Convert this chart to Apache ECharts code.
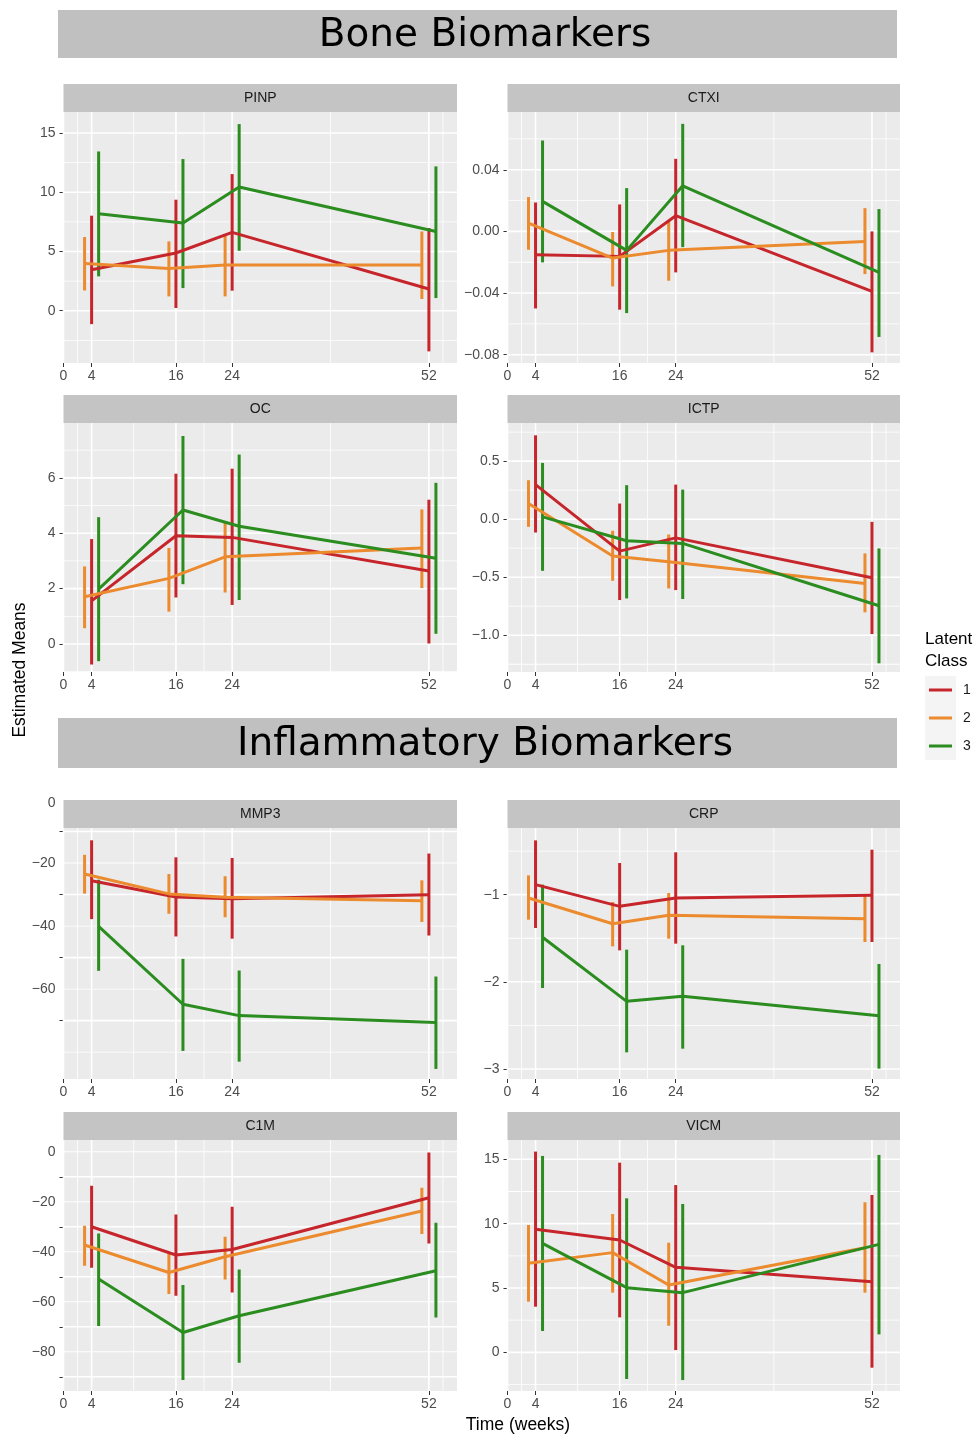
<!DOCTYPE html>
<html><head><meta charset="utf-8">
<script src="https://cdn.jsdelivr.net/npm/echarts@6.0.0/dist/echarts.min.js"></script>
<style>html,body{margin:0;padding:0;background:#fff}#c{width:978px;height:1434px}</style>
</head><body><div id="c"></div>
<script>
// ---------- data ----------
const WEEKS = [4, 16, 24, 52];
const CLASSES = ['1', '2', '3'];
const X_TICKS = [0, 4, 16, 24, 52];
const X_MINOR = [2, 10, 20, 38, 54];
const PANEL_NAMES = ['PINP', 'CTXI', 'OC', 'ICTP', 'MMP3', 'CRP', 'C1M', 'VICM'];
const SECTION_TITLES = ['Bone Biomarkers', 'Inflammatory Biomarkers'];

// each array: [class1, class2, class3], values at WEEKS
const PINP_MEAN = [[3.46, 4.87, 6.61, 1.83], [3.99, 3.57, 3.85, 3.85], [8.19, 7.40, 10.44, 6.69]];
const PINP_LOW  = [[-1.13, 0.23, 1.69, -3.43], [1.71, 1.21, 1.21, 0.99], [2.90, 1.91, 5.06, 1.07]];
const PINP_HIGH = [[8.02, 9.37, 11.53, 6.98], [6.22, 5.85, 6.41, 6.69], [13.44, 12.80, 15.75, 12.18]];

const CTXI_MEAN = [[-0.0151, -0.0162, 0.0102, -0.0389], [0.0054, -0.0173, -0.0123, -0.0065], [0.0195, -0.0123, 0.0296, -0.0266]];
const CTXI_LOW  = [[-0.0500, -0.0508, -0.0266, -0.0785], [-0.0119, -0.0357, -0.0320, -0.0277], [-0.0201, -0.0530, -0.0102, -0.0685]];
const CTXI_HIGH = [[0.0188, 0.0175, 0.0471, 0.0000], [0.0223, -0.0004, 0.0065, 0.0151], [0.0590, 0.0281, 0.0698, 0.0145]];

const OC_MEAN = [[1.56, 3.91, 3.85, 2.64], [1.71, 2.37, 3.15, 3.47], [1.98, 4.84, 4.25, 3.10]];
const OC_LOW  = [[-0.74, 1.68, 1.41, 0.02], [0.57, 1.17, 1.86, 2.02], [-0.62, 2.16, 1.59, 0.37]];
const OC_HIGH = [[3.79, 6.15, 6.33, 5.21], [2.80, 3.47, 4.42, 4.86], [4.58, 7.51, 6.84, 5.82]];

const ICTP_MEAN = [[0.298, -0.275, -0.161, -0.505], [0.135, -0.318, -0.367, -0.554], [0.020, -0.186, -0.209, -0.746]];
const ICTP_LOW  = [[-0.115, -0.697, -0.611, -0.990], [-0.066, -0.531, -0.597, -0.803], [-0.445, -0.683, -0.688, -1.242]];
const ICTP_HIGH = [[0.723, 0.135, 0.298, -0.023], [0.336, -0.100, -0.132, -0.295], [0.485, 0.293, 0.255, -0.252]];

const MMP3_MEAN = [[-25.6, -30.8, -31.3, -30.1], [-23.5, -29.8, -30.9, -32.0], [-40.1, -64.8, -68.4, -70.6]];
const MMP3_LOW  = [[-37.8, -43.3, -44.0, -43.0], [-29.7, -36.1, -37.2, -38.7], [-54.2, -79.6, -83.0, -85.3]];
const MMP3_HIGH = [[-12.8, -18.2, -18.4, -17.0], [-17.4, -23.5, -24.2, -25.5], [-25.3, -50.4, -54.1, -56.0]];

const CRP_MEAN = [[-0.885, -1.134, -1.038, -1.008], [-1.038, -1.333, -1.237, -1.275], [-1.489, -2.224, -2.166, -2.388]];
const CRP_LOW  = [[-1.382, -1.639, -1.562, -1.543], [-1.287, -1.593, -1.505, -1.543], [-2.071, -2.809, -2.767, -2.996]];
const CRP_HIGH = [[-0.377, -0.637, -0.514, -0.484], [-0.778, -1.084, -0.981, -1.000], [-0.885, -1.631, -1.581, -1.795]];

const C1M_MEAN = [[-30.0, -41.3, -39.1, -18.4], [-37.3, -48.3, -42.0, -23.7], [-50.9, -72.3, -65.6, -47.6]];
const C1M_LOW  = [[-46.4, -57.6, -56.3, -36.7], [-45.6, -56.9, -51.1, -32.9], [-69.7, -91.3, -84.4, -66.3]];
const C1M_HIGH = [[-13.6, -25.1, -22.0, -0.3], [-29.6, -40.7, -34.0, -14.4], [-32.7, -53.3, -47.1, -28.4]];

const VICM_MEAN = [[9.56, 8.73, 6.61, 5.49], [6.92, 7.75, 5.23, 8.13], [8.47, 5.03, 4.64, 8.39]];
const VICM_LOW  = [[3.55, 2.72, 0.18, -1.19], [3.94, 4.64, 2.07, 4.64], [1.66, -2.07, -2.15, 1.40]];
const VICM_HIGH = [[15.60, 14.74, 13.00, 12.23], [9.90, 10.75, 8.52, 11.66], [15.26, 11.97, 11.53, 15.34]];

// y-axis breaks
const PINP_TICKS = [0, 5, 10, 15];          const PINP_MINOR = [-2.5, 2.5, 7.5, 12.5];
const CTXI_TICKS = [-0.08, -0.04, 0, 0.04]; const CTXI_MINOR = [-0.06, -0.02, 0.02, 0.06];
const OC_TICKS = [0, 2, 4, 6];              const OC_MINOR = [-1, 1, 3, 5, 7];
const ICTP_TICKS = [-1, -0.5, 0, 0.5];      const ICTP_MINOR = [-1.25, -0.75, -0.25, 0.25, 0.75];
const MMP3_TICKS = [-10, -30, -50, -70];    const MMP3_LABELS = [0, -20, -40, -60]; const MMP3_MINOR = [-20, -40, -60, -80];
const CRP_TICKS = [-3, -2, -1];             const CRP_MINOR = [-2.5, -1.5, -0.5];
const C1M_TICKS = [-10, -30, -50, -70, -90]; const C1M_LABELS = [0, -20, -40, -60, -80]; const C1M_MINOR = [0, -20, -40, -60, -80];
const VICM_TICKS = [0, 5, 10, 15];          const VICM_MINOR = [-2.5, 2.5, 7.5, 12.5];

// ---------- styling / layout ----------
const COLORS = ['#C6262B', '#EC8A2E', '#2B8C1F'];
const DODGE = [0, -1, 1];
const FONT = "'Liberation Sans', Arial, sans-serif";
const COL_LEFT = [63.5, 507.5], COL_W = [393.5, 392.5];
const ROW_TOP = [112, 423, 828, 1140], ROW_H = [251, 249, 251, 251];
const STRIP_H = 28;
const LW = 3;

const PANELS = [
  {mean: PINP_MEAN, low: PINP_LOW, high: PINP_HIGH, ticks: PINP_TICKS, labels: PINP_TICKS, minor: PINP_MINOR, min: -4.41, max: 16.77, dec: 0},
  {mean: CTXI_MEAN, low: CTXI_LOW, high: CTXI_HIGH, ticks: CTXI_TICKS, labels: CTXI_TICKS, minor: CTXI_MINOR, min: -0.0854, max: 0.0775, dec: 2},
  {mean: OC_MEAN, low: OC_LOW, high: OC_HIGH, ticks: OC_TICKS, labels: OC_TICKS, minor: OC_MINOR, min: -1.01, max: 7.98, dec: 0},
  {mean: ICTP_MEAN, low: ICTP_LOW, high: ICTP_HIGH, ticks: ICTP_TICKS, labels: ICTP_TICKS, minor: ICTP_MINOR, min: -1.317, max: 0.829, dec: 1},
  {mean: MMP3_MEAN, low: MMP3_LOW, high: MMP3_HIGH, ticks: MMP3_TICKS, labels: MMP3_LABELS, minor: MMP3_MINOR, min: -88.5, max: -8.9, dec: 0, pad: [6, 0, 0, 0]},
  {mean: CRP_MEAN, low: CRP_LOW, high: CRP_HIGH, ticks: CRP_TICKS, labels: CRP_TICKS, minor: CRP_MINOR, min: -3.115, max: -0.235, dec: 0},
  {mean: C1M_MEAN, low: C1M_LOW, high: C1M_HIGH, ticks: C1M_TICKS, labels: C1M_LABELS, minor: C1M_MINOR, min: -95.7, max: 4.7, dec: 0, pad: [0, 0, 6, 0]},
  {mean: VICM_MEAN, low: VICM_LOW, high: VICM_HIGH, ticks: VICM_TICKS, labels: VICM_TICKS, minor: VICM_MINOR, min: -3.0, max: 16.5, dec: 0}
];

function fmt(v, dec) {
  const s = Math.abs(v).toFixed(dec);
  return (v < 0 && Number(s) !== 0 ? '\u2212' : '') + s;
}

const grids = [], xAxes = [], yAxes = [], series = [], graphics = [];

PANELS.forEach((p, k) => {
  const col = k % 2, row = Math.floor(k / 2);
  const left = COL_LEFT[col], width = COL_W[col], top = ROW_TOP[row], height = ROW_H[row];
  grids.push({left, top, width, height, show: true, backgroundColor: '#EBEBEB', borderWidth: 0, containLabel: false});
  xAxes.push({
    type: 'value', gridIndex: k, min: 0, max: 56,
    axisLine: {show: false, onZero: false}, splitLine: {show: false},
    axisTick: {show: true, customValues: X_TICKS, length: 4, lineStyle: {color: '#333', width: 1}},
    axisLabel: {customValues: X_TICKS, color: '#4D4D4D', fontSize: 14, fontFamily: FONT, margin: 6}
  });
  yAxes.push({
    type: 'value', gridIndex: k, min: p.min, max: p.max,
    axisLine: {show: false, onZero: false}, splitLine: {show: false},
    axisTick: {show: true, customValues: p.ticks, length: 4, lineStyle: {color: '#333', width: 1}},
    axisLabel: {customValues: p.labels, color: '#4D4D4D', fontSize: 14, fontFamily: FONT, margin: 8,
      padding: p.pad || 0, formatter: v => fmt(v, p.dec)}
  });
  // panel grid lines (ggplot-style white major/minor)
  series.push({
    type: 'custom', xAxisIndex: k, yAxisIndex: k, silent: true, z: 1, clip: false,
    data: [[WEEKS[0], (p.min + p.max) / 2]],
    renderItem: (params, api) => {
      const cs = params.coordSys;
      const ch = [];
      const v = (x, w) => { const px = api.coord([x, (p.min + p.max) / 2])[0]; if (px < cs.x - 0.5 || px > cs.x + cs.width + 0.5) return;
        ch.push({type: 'rect', shape: {x: px - w / 2, y: cs.y, width: w, height: cs.height}, style: {fill: '#FFFFFF'}}); };
      const h = (y, w) => { const py = api.coord([28, y])[1]; if (py < cs.y - 0.5 || py > cs.y + cs.height + 0.5) return;
        ch.push({type: 'rect', shape: {x: cs.x, y: py - w / 2, width: cs.width, height: w}, style: {fill: '#FFFFFF'}}); };
      X_MINOR.forEach(x => v(x, 0.8));
      p.minor.forEach(y => h(y, 0.8));
      X_TICKS.forEach(x => v(x, 1.6));
      p.ticks.forEach(y => h(y, 1.6));
      return {type: 'group', children: ch};
    }
  });
  CLASSES.forEach((cls, c) => {
    series.push({
      type: 'line', name: cls, xAxisIndex: k, yAxisIndex: k, z: 3, showSymbol: false, silent: true,
      lineStyle: {color: COLORS[c], width: LW}, itemStyle: {color: COLORS[c]},
      data: WEEKS.map((w, i) => [w + DODGE[c], p.mean[c][i]])
    });
    series.push({
      type: 'custom', name: cls + ' CI', xAxisIndex: k, yAxisIndex: k, z: 3, silent: true,
      encode: {x: 0, y: [1, 2]},
      data: WEEKS.map((w, i) => [w + DODGE[c], p.low[c][i], p.high[c][i]]),
      renderItem: (params, api) => {
        const a = api.coord([api.value(0), api.value(1)]);
        const b = api.coord([api.value(0), api.value(2)]);
        return {type: 'line', shape: {x1: a[0], y1: a[1], x2: b[0], y2: b[1]}, style: {stroke: COLORS[c], lineWidth: LW}};
      }
    });
  });
  // facet strip
  graphics.push({id: 'strip' + k, type: 'rect', shape: {x: left, y: top - STRIP_H, width, height: STRIP_H}, style: {fill: '#C4C4C4'}, z: 10});
  graphics.push({id: 'stripT' + k, type: 'text', x: left + width / 2, y: top - STRIP_H / 2 + 0.5, z: 11,
    style: {text: PANEL_NAMES[k], fill: '#1A1A1A', fontSize: 14, fontFamily: FONT, align: 'center', verticalAlign: 'middle'}});
});

// section banners
[[10, 58], [718, 768]].forEach((b, i) => {
  graphics.push({id: 'ban' + i, type: 'rect', shape: {x: 58, y: b[0], width: 839, height: b[1] - b[0]}, style: {fill: '#C0C0C0'}, z: 10});
  graphics.push({id: 'banT' + i, type: 'text', x: 485, y: (b[0] + b[1]) / 2 + 2, z: 11,
    style: {text: SECTION_TITLES[i], fill: '#000', fontSize: 39, fontFamily: "'DejaVu Sans', sans-serif", align: 'center', verticalAlign: 'middle'}});
});

// axis titles
graphics.push({id: 'ytitle', type: 'text', x: 20, y: 670, rotation: Math.PI / 2, z: 11,
  style: {text: 'Estimated Means', fill: '#000', fontSize: 17.5, fontFamily: FONT, align: 'center', verticalAlign: 'middle'}});
graphics.push({id: 'xtitle', type: 'text', x: 518, y: 1425, z: 11,
  style: {text: 'Time (weeks)', fill: '#000', fontSize: 17.5, fontFamily: FONT, align: 'center', verticalAlign: 'middle'}});

// legend
graphics.push({id: 'lgT1', type: 'text', x: 925, y: 639, z: 11, style: {text: 'Latent', fill: '#000', fontSize: 17, fontFamily: FONT, verticalAlign: 'middle'}});
graphics.push({id: 'lgT2', type: 'text', x: 925, y: 661, z: 11, style: {text: 'Class', fill: '#000', fontSize: 17, fontFamily: FONT, verticalAlign: 'middle'}});
CLASSES.forEach((cls, c) => {
  const cy = 690 + c * 28;
  graphics.push({id: 'lgK' + c, type: 'rect', shape: {x: 925, y: cy - 14, width: 31, height: 28}, style: {fill: '#F4F4F4'}, z: 10});
  graphics.push({id: 'lgL' + c, type: 'line', shape: {x1: 929, y1: cy, x2: 952, y2: cy}, style: {stroke: COLORS[c], lineWidth: LW}, z: 11});
  graphics.push({id: 'lgX' + c, type: 'text', x: 963, y: cy, z: 11, style: {text: cls, fill: '#1A1A1A', fontSize: 14, fontFamily: FONT, verticalAlign: 'middle'}});
});

const chart = echarts.init(document.getElementById('c'), null, {width: 978, height: 1434});
chart.setOption({
  animation: false,
  backgroundColor: '#FFFFFF',
  grid: grids, xAxis: xAxes, yAxis: yAxes, series, graphic: graphics
});

// labels that fall outside an axis extent (MMP3 "0")
PANELS.forEach((p, k) => {
  p.labels.forEach((v, j) => {
    if (v > p.max || v < p.min) {
      const pt = chart.convertToPixel({gridIndex: k}, [0, v]);
      chart.setOption({graphic: [{id: 'out' + k + '_' + j, type: 'text', x: pt[0] - 8, y: pt[1] + 3, z: 11,
        style: {text: fmt(v, p.dec), fill: '#4D4D4D', fontSize: 14, fontFamily: FONT, align: 'right', verticalAlign: 'middle'}}]});
    }
  });
});
</script></body></html>
